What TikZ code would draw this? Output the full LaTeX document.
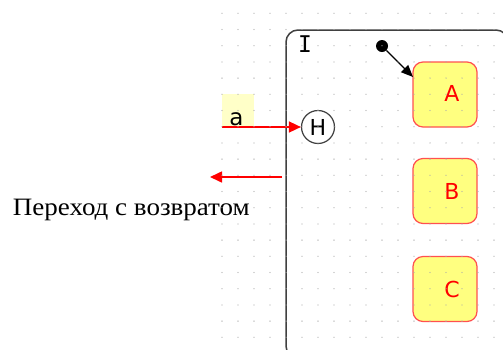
\documentclass[tikz,border=0pt]{standalone}
\usepackage{fontspec}
\setmainfont{Liberation Serif}
\newfontfamily\labfont{DejaVu Sans}
\newfontfamily\monofont{DejaVu Sans Mono}
\usetikzlibrary{arrows.meta}
\definecolor{boxfill}{RGB}{255,255,128}
\definecolor{boxedge}{RGB}{255,80,80}
\definecolor{labbg}{RGB}{255,255,200}
\definecolor{framec}{RGB}{64,64,64}
\definecolor{dotc}{RGB}{170,170,170}
\tikzset{
  statebox/.style={draw=boxedge, fill=boxfill, line width=1.2pt, rounded corners=10pt,
    minimum width=64pt, minimum height=65pt, inner sep=0pt},
  statelab/.style={text=red, font=\labfont\fontsize{22}{22}\selectfont, inner sep=0pt},
  redarrow/.style={draw=red, line width=1.6pt, -{Triangle[length=12pt,width=11pt]}},
  blackarrow/.style={draw=black, line width=1.4pt, -{Triangle[length=12pt,width=10pt]}},
}
\begin{document}
\begin{tikzpicture}[x=1pt,y=-1pt]
\useasboundingbox (0,0) rectangle (503,349);
\fill[white] (0,0) rectangle (503,349);
\begin{scope}
\clip (0,0) rectangle (503,349);
\draw[framec, line width=1.5pt, rounded corners=12pt] (286,30) rectangle (508,358);
\end{scope}
\node[font=\monofont\fontsize{23}{23}\selectfont, inner sep=0pt] (Ilab) at (305,44) {I};
% label background for a
\fill[labbg] (222,94) rectangle (254,127);
\node[font=\labfont\fontsize{23}{23}\selectfont, inner sep=0pt, anchor=base] (alab) at (236.5,125) {a};
% states
\node[statebox] (A) at (445,94.5) {};
\node[statebox] (B) at (445,191) {};
\node[statebox] (C) at (445,289) {};
\node[statelab] (Al) at (452,93) {A};
\node[statelab] (Bl) at (452,191) {B};
\node[statelab] (Cl) at (452,289) {C};
% history
\node[draw=framec, fill=white, circle, line width=1.2pt, minimum size=33pt, inner sep=0pt,
  font=\labfont\fontsize{22}{22}\selectfont] (H) at (318,127) {H};
% initial
\node[fill=black, circle, minimum size=12pt, inner sep=0pt] (init) at (382,46) {};
\coordinate (Ain) at (413,77);
\draw[blackarrow] (init) -- (Ain);
\coordinate (aStart) at (222,127);
\draw[redarrow] (aStart) -- (H);
\coordinate (rS) at (282,177);
\coordinate (rE) at (210,177);
\draw[redarrow] (rS) -- (rE);
\node[font=\fontsize{25}{25}\selectfont, inner sep=0pt, anchor=base west, xscale=1.08] (cap) at (12.7,215) {Переход с возвратом};
% dot grid
\foreach \i in {0,...,17}{
  \foreach \j in {0,...,20}{
    \fill[dotc] ({222+16*\i},{13.3+16.2*\j}) circle (0.65pt);
  }
}
\end{tikzpicture}
\end{document}
